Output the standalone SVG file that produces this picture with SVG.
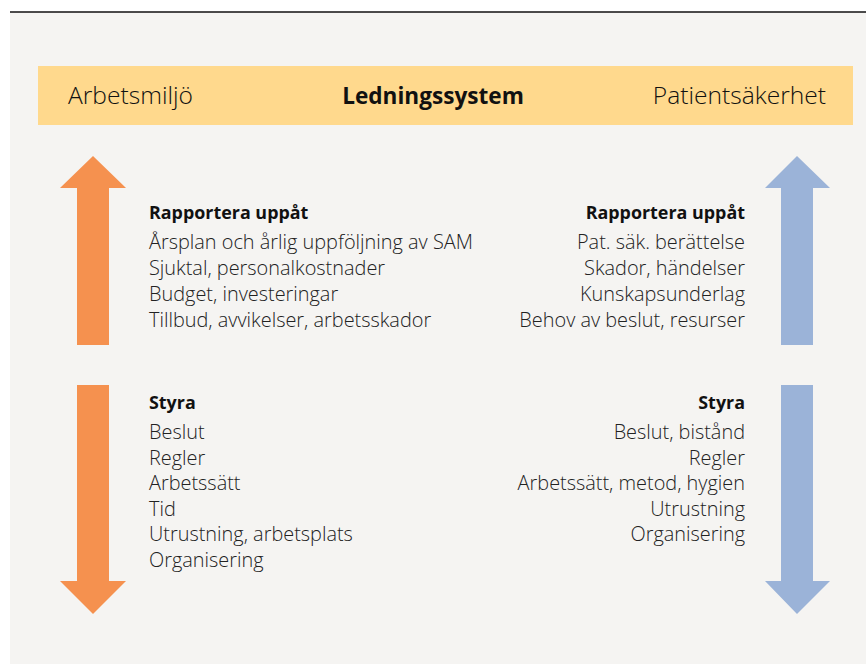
<svg xmlns="http://www.w3.org/2000/svg" width="866" height="664" viewBox="0 0 866 664">
<style>
.t{font-family:"Open Sans","Noto Sans",sans-serif;font-size:19.9px;font-weight:300;fill:#222}
.h{font-family:"Open Sans","Noto Sans",sans-serif;font-size:17.9px;font-weight:bold;fill:#111}
.big{font-family:"Open Sans","Noto Sans",sans-serif;font-size:24.6px;font-weight:300;fill:#111}
.bigb{font-family:"Open Sans","Noto Sans",sans-serif;font-size:22.6px;font-weight:bold;fill:#111}
.r{text-anchor:end}
.or{fill:#f5914f}
.bl{fill:#9bb3d8}
</style>
<rect x="0" y="0" width="866" height="664" fill="#ffffff"/>
<rect x="10" y="12" width="856" height="652" fill="#f5f4f2"/>
<line x1="10" y1="12" x2="866" y2="12" stroke="#111" stroke-width="1.5"/>
<g id="band">
<rect x="38" y="66" width="815" height="59" fill="#ffd98d"/>
<text class="big" x="68" y="104">Arbetsmiljö</text>
<text class="bigb" x="433" y="104" text-anchor="middle">Ledningssystem</text>
<text class="big r" x="826" y="104">Patientsäkerhet</text>
</g>
<g id="connectors">
<polygon class="or" points="93,156 126,188 109,188 109,345 77,345 77,188 60,188"/>
<polygon class="bl" points="797,156 830,188 813,188 813,345 781,345 781,188 765,188"/>
<polygon class="or" points="77,385 109,385 109,581 126,581 93,614 60,581 77,581"/>
<polygon class="bl" points="781,385 813,385 813,581 830,581 797,614 765,581 781,581"/>
</g>
<g id="left-up">
<text class="h" x="149" y="219">Rapportera uppåt</text>
<text class="t" x="149" y="249">Årsplan och årlig uppföljning av SAM</text>
<text class="t" x="149" y="275">Sjuktal, personalkostnader</text>
<text class="t" x="149" y="301">Budget, investeringar</text>
<text class="t" x="149" y="327">Tillbud, avvikelser, arbetsskador</text>
</g>
<g id="right-up">
<text class="h r" x="745" y="219">Rapportera uppåt</text>
<text class="t r" x="745" y="249">Pat. säk. berättelse</text>
<text class="t r" x="745" y="275">Skador, händelser</text>
<text class="t r" x="745" y="301">Kunskapsunderlag</text>
<text class="t r" x="745" y="327">Behov av beslut, resurser</text>
</g>
<g id="left-down">
<text class="h" x="149" y="409">Styra</text>
<text class="t" x="149" y="439">Beslut</text>
<text class="t" x="149" y="465">Regler</text>
<text class="t" x="149" y="490">Arbetssätt</text>
<text class="t" x="149" y="516">Tid</text>
<text class="t" x="149" y="541">Utrustning, arbetsplats</text>
<text class="t" x="149" y="567">Organisering</text>
</g>
<g id="right-down">
<text class="h r" x="745" y="409">Styra</text>
<text class="t r" x="745" y="439">Beslut, bistånd</text>
<text class="t r" x="745" y="465">Regler</text>
<text class="t r" x="745" y="490">Arbetssätt, metod, hygien</text>
<text class="t r" x="745" y="516">Utrustning</text>
<text class="t r" x="745" y="541">Organisering</text>
</g>
</svg>
